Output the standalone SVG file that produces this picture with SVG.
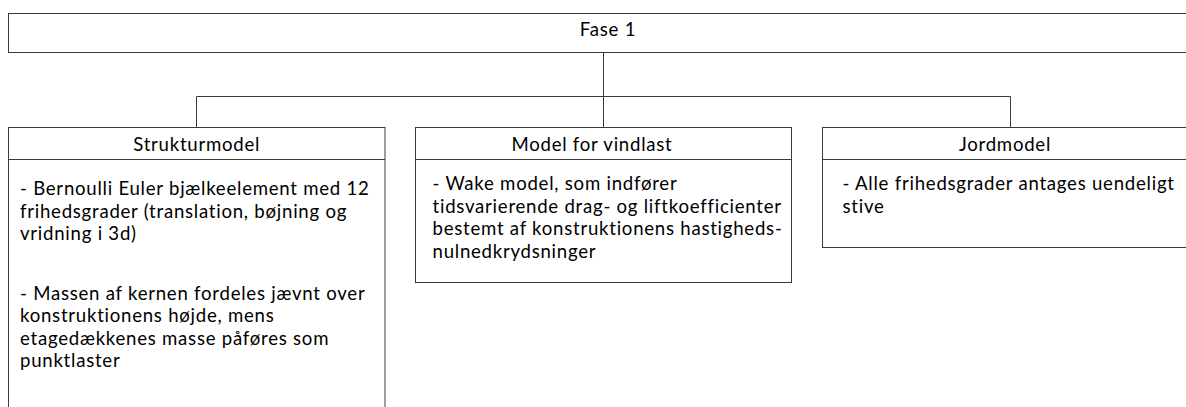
<svg xmlns="http://www.w3.org/2000/svg" width="1186" height="407" viewBox="0 0 1186 407">
<style>
.box{fill:#fff;stroke:#3a3a3a;stroke-width:1}
.ln{fill:none;stroke:#3a3a3a;stroke-width:1}
text{font-family:Lato,"Open Sans","Liberation Sans",sans-serif;font-size:18.6px;letter-spacing:0.75px;fill:#000}
.c{text-anchor:middle}
</style>
<g id="connectors">
<path class="ln" d="M603.5,52.5 V127.5 M196.5,96.5 H1010.5 M196.5,96.5 V127.5 M1010.5,96.5 V127.5"/>
</g>
<g id="fase1">
<rect class="box" x="8.5" y="13.5" width="1200" height="39"/>
<text class="c" x="608" y="36">Fase 1</text>
</g>
<g id="strukturmodel">
<rect class="box" x="8.5" y="127.5" width="376.5" height="300"/>
<path class="ln" d="M8.5,159.5 H385"/>
<text class="c" x="196.7" y="151">Strukturmodel</text>
<text x="20" y="195"><tspan x="20" y="195">- Bernoulli Euler bjælkeelement med 12</tspan><tspan x="20" y="217.7">frihedsgrader (translation, bøjning og</tspan><tspan x="20" y="240.4">vridning i 3d)</tspan></text>
<text x="20" y="299.5"><tspan x="20" y="299.5">- Massen af kernen fordeles jævnt over</tspan><tspan x="20" y="322">konstruktionens højde, mens</tspan><tspan x="20" y="344.5">etagedækkenes masse påføres som</tspan><tspan x="20" y="367">punktlaster</tspan></text>
</g>
<g id="vindlast">
<rect class="box" x="415.5" y="127.5" width="376" height="155"/>
<path class="ln" d="M415.5,159.5 H791.5"/>
<text class="c" x="592" y="151">Model for vindlast</text>
<text x="432.5" y="190.2"><tspan x="432.5" y="190.2">- Wake model, som indfører</tspan><tspan x="432.5" y="212.8">tidsvarierende drag- og liftkoefficienter</tspan><tspan x="432.5" y="235.4">bestemt af konstruktionens hastigheds-</tspan><tspan x="432.5" y="258">nulnedkrydsninger</tspan></text>
</g>
<g id="jordmodel">
<rect class="box" x="822.5" y="127.5" width="400" height="120"/>
<path class="ln" d="M822.5,159.5 H1186"/>
<text class="c" x="1005" y="151">Jordmodel</text>
<text x="842.5" y="190.2"><tspan x="842.5" y="190.2">- Alle frihedsgrader antages uendeligt</tspan><tspan x="842.5" y="212.8">stive</tspan></text>
</g>
</svg>
